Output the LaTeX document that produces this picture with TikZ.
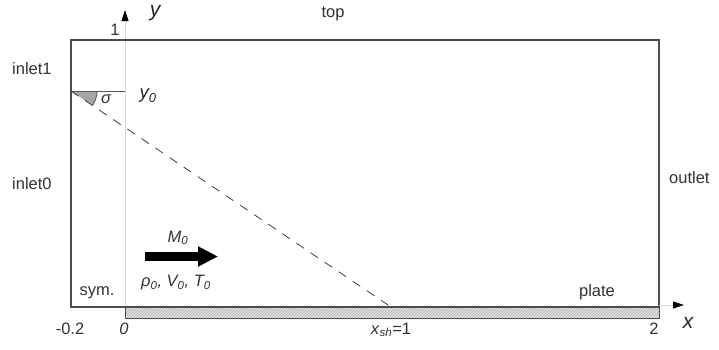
\documentclass[tikz,border=0pt]{standalone}
\usepackage{fontspec}
\setmainfont{Liberation Sans}
\usetikzlibrary{arrows.meta,patterns}
\begin{document}
\begin{tikzpicture}[x=1pt,y=-1pt,
  lbl/.style={font=\fontsize{16.5}{18}\selectfont, text=black!80, inner sep=0pt},
  ilbl/.style={font=\fontsize{16.5}{18}\selectfont\itshape, text=black!80, inner sep=0pt},
  axlbl/.style={font=\fontsize{21}{23}\selectfont\itshape, text=black!85, inner sep=0pt},
  boundary/.style={draw=black!70, line width=1.1pt},
  thinline/.style={draw=black!65, line width=0.8pt},
  axisline/.style={draw=black!15, line width=0.9pt},
  axtip/.style={-{Triangle[length=11pt,width=7pt,color=black]}, draw=black!15, line width=0.9pt}]
\useasboundingbox (0,0) rectangle (719,349);
\fill[white] (0,0) rectangle (719,349);
% named points
\coordinate (TL) at (71,40);
\coordinate (BR) at (659,307);
\coordinate (O) at (125,307);
\coordinate (Yt) at (125,10);
\coordinate (Xe) at (684,305);
\coordinate (Xs) at (659,305);
\coordinate (S0) at (71,91);
\coordinate (Y0) at (125,91);
\coordinate (Ssh) at (391,307);
% y axis
\draw[axisline] (125,318) -- (125,22);
\draw[axtip] (125,24) -- (Yt);
% domain
\draw[boundary] (TL) rectangle (BR);
% plate
\fill[black!10] (125,307) rectangle (659,318);
\fill[pattern=north east lines, pattern color=black!35] (125,307) rectangle (659,318);
\draw[draw=black!70, line width=0.8pt] (125,307) rectangle (659,318);
% x axis arrow
\draw[axtip] (Xs) -- (Xe);
% shock wedge
\fill[black!35] (S0) -- (97,91) arc[start angle=0, end angle=34, radius=26] -- cycle;
\draw[thinline] (97,91) arc[start angle=0, end angle=34, radius=26];
\draw[thinline] (S0) -- (Y0);
\draw[draw=black!75, line width=0.8pt, dash pattern=on 9pt off 8pt] (S0) -- (Ssh);
% flow arrow
\draw[line width=9pt, -{Triangle[length=20pt,width=19pt]}] (145,256.5) -- (218,256.5);
% labels
\node[lbl] (top) at (333,14) {top};
\node[lbl, anchor=west] (in1) at (12,69) {inlet1};
\node[lbl, anchor=west] (in0) at (12,184) {inlet0};
\node[lbl, anchor=west] (out) at (669,178) {outlet};
\node[lbl] (sym) at (97,293) {sym.};
\node[lbl] (plate) at (597,292) {plate};
\node[lbl] (m02) at (70,329) {-0.2};
\node[ilbl] (zero) at (124,329) {0};
\node[lbl] (xsh) at (391,330) {\textit{x}\textsubscript{\textit{sh}}=1};
\node[lbl] (two) at (654,329) {2};
\node[axlbl] (xl) at (688,323) {x};
\node[axlbl] (yl) at (155,13) {y};
\node[lbl] (one) at (115,30) {1};
\node[axlbl, font=\fontsize{18.5}{20}\selectfont\itshape] (y0l) at (148,96) {y\textsubscript{0}};
\node[ilbl] (sig) at (106,99) {σ};
\node[ilbl] (M0) at (178,238) {M\textsubscript{0}};
\node[ilbl] (rvt) at (176,283) {ρ\textsubscript{0}, V\textsubscript{0}, T\textsubscript{0}};
\end{tikzpicture}
\end{document}
